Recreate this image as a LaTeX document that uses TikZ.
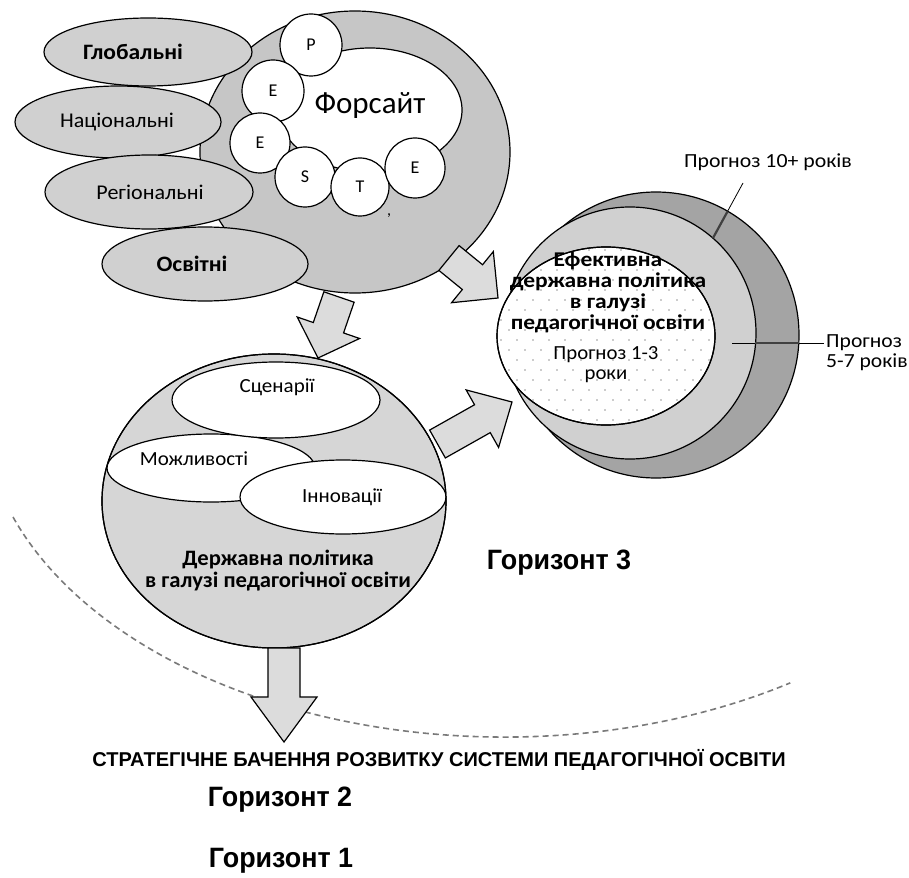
\documentclass[tikz,border=0pt]{standalone}
\usepackage{fontspec}
\setmainfont{Carlito}
\newfontfamily\arialf{Liberation Sans}
\usetikzlibrary{calc,shapes.geometric}
\definecolor{ringgray}{HTML}{C6C6C6}
\definecolor{ellgray}{HTML}{D0D0D0}
\definecolor{sphgray}{HTML}{D6D6D6}
\definecolor{outgray}{HTML}{A4A4A4}
\definecolor{midgray}{HTML}{D0D0D0}
\definecolor{arrgray}{HTML}{DCDCDC}
\definecolor{dashgray}{HTML}{7A7A7A}
\newcommand\fsz[1]{\fontsize{#1}{#1}\selectfont}
\newcommand\blockarr[3]{%
  \coordinate (bh) at ($(#2)!#3!(#1)$);
  \draw[arrowsty] ($(#1)!16pt!90:(#2)$) -- ($(bh)!16pt!90:(#2)$) -- ($(bh)!33pt!90:(#2)$) -- (#2)
     -- ($(bh)!33pt!-90:(#2)$) -- ($(bh)!16pt!-90:(#2)$) -- ($(#1)!16pt!-90:(#2)$) -- cycle;}
\begin{document}
\begin{tikzpicture}[x=1pt,y=-1pt,
  ol/.style={draw=black, line width=1.2pt},
  lellshape/.style={ol, ellipse, fill=ellgray, inner sep=0pt},
  lelltxt/.style={font=\fsz{21}, xscale=1.05, inner sep=0pt},
  lellbold/.style={font=\bfseries\fsz{22}, xscale=1.07, inner sep=0pt},
  wcirc/.style={ol, fill=white},
  letter/.style={font=\fsz{18}, inner sep=0pt},
  wellshape/.style={ol, ellipse, fill=white, inner sep=0pt},
  welltxt/.style={font=\fsz{20}, xscale=1.05, inner sep=0pt},
  arrowsty/.style={draw=black, line width=1.2pt, fill=arrgray, line join=miter},
  hz/.style={font=\arialf\bfseries\fsz{28}, xscale=0.96, inner sep=0pt},
  lab/.style={font=\fsz{20}, xscale=1.09, inner sep=0pt}]
\useasboundingbox (0,0) rectangle (909,877);

% dashed horizon arc
\draw[dashgray, line width=1.6pt, dash pattern=on 6pt off 4pt] (13,517) arc[start angle=199.7, end angle=303.2, x radius=522pt, y radius=332pt];

% Foresight ring
\node[ol, ellipse, fill=ringgray, minimum width=310pt, minimum height=282pt, inner sep=0pt] (ring) at (355,152) {};
\node[ol, ellipse, fill=white, minimum width=184pt, minimum height=124pt, inner sep=0pt] (blob) at (370,110) {};
\node[font=\fsz{31}] (fors) at (370,106) {Форсайт};
\draw[wcirc] (311,45) circle[radius=31pt];
\draw[wcirc] (273,91) circle[radius=31pt];
\draw[wcirc] (260,143) circle[radius=30pt];
\draw[wcirc] (305,177) circle[radius=30pt];
\draw[wcirc] (360,187) circle[radius=29pt];
\draw[wcirc] (415,168) circle[radius=30pt];
\node[letter] (cP) at (311,45) {P};
\node[letter] (cE1) at (273,91) {E};
\node[letter] (cE2) at (260,143) {E};
\node[letter] (cS) at (305,177) {S};
\node[letter] (cT) at (360,187) {T};
\node[letter] (cE3) at (415,168) {E};
\node[font=\fsz{16}, inner sep=0pt] (comma) at (389,216) {,};

% left ellipses
\node[lellshape, minimum width=208pt, minimum height=68pt] (glob) at (148,52) {};
\node[lellshape, minimum width=206pt, minimum height=72pt] (nat) at (118,122) {};
\node[lellshape, minimum width=208pt, minimum height=74pt] (reg) at (149,192) {};
\node[lellshape, minimum width=206pt, minimum height=74pt] (osv) at (205,264) {};
\node[lellbold] (globt) at (133,52) {Глобальні};
\node[lelltxt] (natt) at (117,122) {Національні};
\node[lelltxt] (regt) at (150,192) {Регіональні};
\node[lellbold] (osvt) at (192,264) {Освітні};

% right circles
\node[ol, circle, fill=outgray, minimum size=286pt, inner sep=0pt] (outc) at (656,335) {};
\node[ol, circle, fill=midgray, minimum size=252pt, inner sep=0pt] (midc) at (630,333) {};
\node[ol, ellipse, fill=white, minimum width=218pt, minimum height=178pt, inner sep=0pt] (innc) at (606,336) {};
\begin{scope}
  \clip (606,336) ellipse [x radius=108pt, y radius=88pt];
  \foreach \i in {0,...,14} \foreach \j in {0,...,18}
    \fill[gray!80] ({493+\i*16+mod(\j,2)*8},{250+\j*10}) circle (0.9pt);
\end{scope}
\draw[ol] (innc.center) ellipse [x radius=109pt, y radius=89pt];
\node[font=\bfseries\fsz{21}, xscale=1.12, align=center, inner sep=0pt] (effp) at (608,293)
  {\fontsize{21}{20}\selectfont Ефективна\\державна політика\\в галузі\\педагогічної освіти};
\node[font=\fsz{20}, xscale=1.04, align=center, inner sep=0pt] (p13) at (606,365)
  {\fontsize{20}{30}\selectfont Прогноз 1-3\\роки};

% forecast pointers
\node[lab] (p10) at (768,162) {Прогноз 10+ років};
\coordinate (p10a) at (743,183);
\coordinate (p10b) at (713,238);
\coordinate (p10c) at (727.5,211.5);
\draw[line width=0.8pt] (p10a) -- (p10b);
\draw[line width=2.2pt, black!75] (p10c) -- (p10b);
\node[font=\fsz{20}, xscale=1.08, align=left, anchor=west, inner sep=0pt] (p57) at (826,353) {\fontsize{20}{19}\selectfont Прогноз\\5-7 років};
\coordinate (p57a) at (732,343);
\coordinate (p57b) at (824,343);
\draw[line width=0.8pt] (p57a) -- (p57b);
\draw[line width=2.2pt, black!75] (754.6,343) -- (798.8,343);

% sphere
\node[ol, ellipse, fill=sphgray, minimum width=344pt, minimum height=294pt, inner sep=0pt] (sph) at (274,501) {};
\begin{scope}
  \clip (274,501) ellipse [x radius=172pt, y radius=147pt];
  \node[wellshape, minimum width=208pt, minimum height=68pt] (mozh) at (211,468) {};
  \node[wellshape, minimum width=208pt, minimum height=76pt] (scen) at (276,400) {};
  \node[wellshape, minimum width=206pt, minimum height=74pt] (innov) at (343,497) {};
\end{scope}
\draw[ol] (sph.center) ellipse [x radius=172pt, y radius=147pt];
\node[welltxt] (mozht) at (194,459) {Можливості};
\node[welltxt] (scent) at (277,387) {Сценарії};
\node[welltxt] (innovt) at (342,497) {Інновації};
\node[font=\bfseries\fsz{22}, xscale=1.03, align=center, inner sep=0pt] (dp) at (278,571)
  {\fontsize{22}{28}\selectfont Державна політика\\в галузі педагогічної освіти};

% block arrows
\coordinate (a1t) at (449,258); \coordinate (a1h) at (498,298);
\coordinate (a2t) at (339,297); \coordinate (a2h) at (318,358);
\coordinate (a3t) at (437.5,444); \coordinate (a3h) at (512,402);
\coordinate (a4t) at (284,648); \coordinate (a4h) at (284,742);
\blockarr{a1t}{a1h}{33pt}
\blockarr{a2t}{a2h}{32pt}
\blockarr{a3t}{a3h}{34pt}
\blockarr{a4t}{a4h}{45pt}

% horizon labels
\node[hz] (h3) at (559,563) {Горизонт 3};
\node[font=\arialf\bfseries\fsz{20}, inner sep=0pt] (strat) at (439,760) {СТРАТЕГІЧНЕ БАЧЕННЯ РОЗВИТКУ СИСТЕМИ ПЕДАГОГІЧНОЇ ОСВІТИ};
\node[hz] (h2) at (280,800) {Горизонт 2};
\node[hz] (h1) at (281,861) {Горизонт 1};
\end{tikzpicture}
\end{document}
